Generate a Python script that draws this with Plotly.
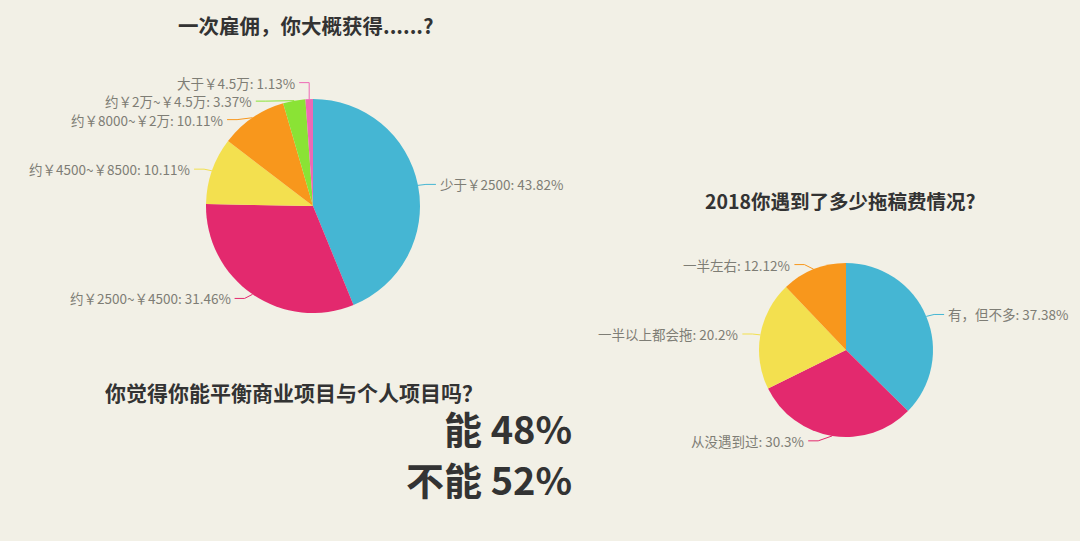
import math
import plotly.graph_objects as go

# ---------------- data ----------------
pay_labels = ["少于￥2500", "约￥2500~￥4500", "约￥4500~￥8500", "约￥8000~￥2万", "约￥2万~￥4.5万", "大于￥4.5万"]
pay_values = [43.82, 31.46, 10.11, 10.11, 3.37, 1.13]

delay_labels = ["有，但不多", "从没遇到过", "一半以上都会拖", "一半左右"]
delay_values = [37.38, 30.3, 20.2, 12.12]

balance_labels = ["能", "不能"]
balance_values = [48, 52]

titles = ["一次雇佣，你大概获得......?", "2018你遇到了多少拖稿费情况?", "你觉得你能平衡商业项目与个人项目吗？"]

# ---------------- style ----------------
W, H = 1080, 541
BG = "#f2f0e6"
PALETTE = ["#45b6d3", "#e3296e", "#f3e04f", "#f8971c", "#8ae335", "#ee68b5"]
LABEL_COLOR = "#7e7d75"
TITLE_COLOR = "#333333"
FONT = "Noto Sans CJK SC"

fig = go.Figure()
shapes = []
annotations = []


def px(x):
    return x / W


def py(y):
    return 1 - y / H


def add_pie(labels, values, cx, cy, r):
    colors = PALETTE[: len(values)]
    fig.add_trace(go.Pie(
        labels=labels, values=values, sort=False, direction="clockwise", rotation=0,
        marker=dict(colors=colors, line=dict(width=0)), textinfo="none",
        hovertemplate="%{label}: %{value}%<extra></extra>", showlegend=False,
        domain=dict(x=[px(cx - r), px(cx + r)], y=[py(cy + r), py(cy - r)]),
    ))
    total = sum(values)
    len1, len2, gap = 5, 10, 18.5
    R = r + 8
    items = []
    cum = 0
    for i, v in enumerate(values):
        mid = (cum + v / 2) / total * 2 * math.pi
        cum += v
        ex = cx + r * math.sin(mid)
        ey = cy - r * math.cos(mid)
        side = 1 if math.sin(mid) >= 0 else -1
        ny = cy - (r + len1) * math.cos(mid)
        items.append(dict(i=i, ex=ex, ey=ey, side=side, ny=ny, y=ny))
    # resolve overlaps per side
    for side in (1, -1):
        grp = sorted([it for it in items if it["side"] == side], key=lambda d: d["ny"])
        clusters = []
        for k, it in enumerate(grp):
            if k > 0 and it["ny"] < grp[k - 1]["y"] + gap:
                it["y"] = grp[k - 1]["y"] + gap
                clusters[-1].append(it)
            else:
                it["y"] = it["ny"]
                clusters.append([it])
        for cl in clusters:
            if len(cl) > 1:
                shift = sum(c["ny"] for c in cl) / len(cl) - sum(c["y"] for c in cl) / len(cl)
                for c in cl:
                    c["y"] += shift
    for it in items:
        side, y = it["side"], it["y"]
        dy = y - cy
        dx = math.sqrt(R * R - dy * dy) if abs(dy) < R else 0
        xc = cx + side * dx
        xc = max(xc, it["ex"]) if side > 0 else min(xc, it["ex"])
        xe = xc + side * len2
        color = PALETTE[it["i"]]
        shapes.append(dict(
            type="path", xref="paper", yref="paper",
            path=f"M {px(it['ex'])},{py(it['ey'])} L {px(xc)},{py(y)} L {px(xe)},{py(y)}",
            line=dict(color=color, width=1),
        ))
        annotations.append(dict(
            x=px(xe + side * 2), y=py(y), xref="paper", yref="paper", showarrow=False,
            xanchor="left" if side > 0 else "right", yanchor="middle",
            text=f"{labels[it['i']]}: {values[it['i']]:g}%",
            font=dict(family=FONT, size=13.5, color=LABEL_COLOR),
        ))


add_pie(pay_labels, pay_values, 313, 206, 107)
add_pie(delay_labels, delay_values, 846, 350, 87)

# titles
for text, x, y, size in [(titles[0], 306, 25, 20.5), (titles[1], 840, 200, 19.5)]:
    annotations.append(dict(x=px(x), y=py(y), xref="paper", yref="paper", showarrow=False,
                            xanchor="center", yanchor="middle", text=f"<b>{text}</b>",
                            font=dict(family=FONT, size=size, color=TITLE_COLOR)))
annotations.append(dict(x=px(103), y=py(392), xref="paper", yref="paper", showarrow=False,
                        xanchor="left", yanchor="middle", text=f"<b>{titles[2]}</b>",
                        font=dict(family=FONT, size=21, color=TITLE_COLOR)))
for (lab, val), y in zip(zip(balance_labels, balance_values), [427, 478]):
    annotations.append(dict(x=px(574), y=py(y), xref="paper", yref="paper", showarrow=False,
                            xanchor="right", yanchor="middle", text=f"<b>{lab} {val}%</b>",
                            font=dict(family=FONT, size=38, color=TITLE_COLOR)))

fig.update_layout(
    width=W, height=H, margin=dict(l=0, r=0, t=0, b=0),
    paper_bgcolor=BG, plot_bgcolor=BG,
    shapes=shapes, annotations=annotations,
)

fig.write_html("out.html")
